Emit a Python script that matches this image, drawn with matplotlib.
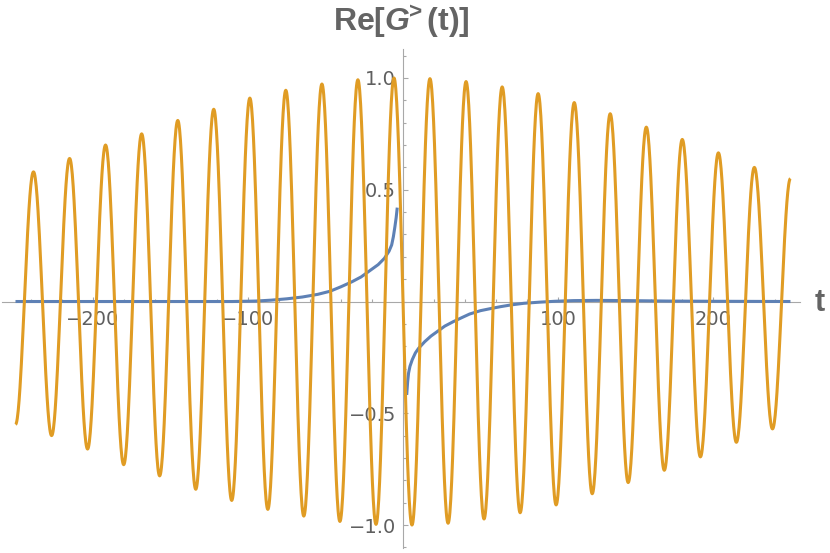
import numpy as np
import matplotlib
matplotlib.use('Agg')
import matplotlib.pyplot as plt
from matplotlib.ticker import MultipleLocator, FixedLocator, FuncFormatter

# fonts: bold title with bold-italic G
plt.rcParams['mathtext.fontset'] = 'custom'
plt.rcParams['mathtext.rm'] = 'Liberation Sans:bold'
plt.rcParams['mathtext.it'] = 'Liberation Sans:bold:italic'

# %%
# orange curve: extrema (time, value)
osc_t = [-250.0, -238.4, -226.7, -215.1, -203.5, -191.9, -180.2, -168.6, -157.0, -145.3,
         -133.7, -122.1, -110.5, -98.8, -87.2, -75.6, -64.0, -52.3, -40.7, -29.1,
         -17.4, -5.8, 5.8, 17.4, 29.1, 40.7, 52.3, 64.0, 75.6, 87.2,
         98.8, 110.5, 122.1, 133.7, 145.3, 157.0, 168.6, 180.2, 191.9, 203.5,
         215.1, 226.7, 238.4, 250.0]
osc_v = [-0.55, 0.58, -0.60, 0.64, -0.66, 0.70, -0.73, 0.75, -0.78, 0.81,
         -0.84, 0.86, -0.89, 0.91, -0.93, 0.945, -0.96, 0.973, -0.984, 0.992,
         -0.997, 1.0, -1.0, 0.997, -0.992, 0.984, -0.973, 0.96, -0.945, 0.93,
         -0.91, 0.89, -0.86, 0.84, -0.81, 0.78, -0.755, 0.725, -0.695, 0.665,
         -0.63, 0.60, -0.57, 0.55]

# blue curve: points, left and right of the jump at t=0
g_t_left = [-250, -200, -150, -110, -95, -85, -75, -65, -55, -47, -40, -33, -27, -21,
            -16, -12, -9, -7.3, -6.2, -5.2, -4.4, -3.7]
g_v_left = [0, 0, 0, 0, 0.002, 0.006, 0.012, 0.02, 0.032, 0.046, 0.066, 0.088, 0.11, 0.14,
            0.165, 0.193, 0.225, 0.253, 0.29, 0.335, 0.375, 0.42]
g_t_right = [2.4, 3.0, 3.6, 4.5, 6, 8, 10, 14, 18, 22, 27, 32.5, 38, 43, 50, 57, 63,
             70, 78, 88, 98, 110, 125, 145, 170, 200, 250]
g_v_right = [-0.418, -0.36, -0.32, -0.29, -0.26, -0.23, -0.21, -0.18, -0.155, -0.135, -0.11,
             -0.09, -0.072, -0.056, -0.041, -0.031, -0.023,
             -0.015, -0.008, -0.003, 0.001, 0.004, 0.005, 0.004, 0.002, 0.001, 0]

x_major = [-200, -100, 100, 200]
y_major = [-1.0, -0.5, 0.5, 1.0]

# smooth half-cosine shape between neighbouring extrema
ot = []
ov = []
for i in range(len(osc_t) - 1):
    s = np.linspace(0, 1, 40, endpoint=False)
    ot.extend(osc_t[i] + s * (osc_t[i + 1] - osc_t[i]))
    ov.extend(osc_v[i] + (osc_v[i + 1] - osc_v[i]) * (1 - np.cos(np.pi * s)) / 2)
ot.append(osc_t[-1])
ov.append(osc_v[-1])

# %%
fig = plt.figure(figsize=(8.3, 5.53), dpi=100)
ax = fig.add_axes([0.00187, 0.00814, 0.9617, 0.9034])

ax.plot(g_t_left, g_v_left, color='#5E81B5', lw=2.2, zorder=3, solid_capstyle='butt')
ax.plot(g_t_right, g_v_right, color='#5E81B5', lw=2.2, zorder=3, solid_capstyle='butt')
ax.plot(ot, ov, color='#E09C24', lw=2.2, zorder=4, solid_capstyle='butt')

ax.set_xlim(-259, 256)
ax.set_ylim(-1.105, 1.13)

axcol = '#a8a8a8'
for side in ['top', 'right']:
    ax.spines[side].set_visible(False)
for side in ['left', 'bottom']:
    ax.spines[side].set_position(('data', 0))
    ax.spines[side].set_color(axcol)
    ax.spines[side].set_linewidth(0.8)
    ax.spines[side].set_zorder(2)

ax.xaxis.set_major_locator(FixedLocator(x_major))
ax.xaxis.set_minor_locator(MultipleLocator(20))
ax.yaxis.set_major_locator(FixedLocator(y_major))
ax.yaxis.set_minor_locator(MultipleLocator(0.1))
ax.xaxis.set_major_formatter(FuncFormatter(lambda v, p: ('%d' % v).replace('-', '\u2212')))
ax.yaxis.set_major_formatter(FuncFormatter(lambda v, p: ('%.1f' % v).replace('-', '\u2212')))

ax.tick_params(which='both', direction='in', color=axcol, width=0.8,
               labelcolor='#5f5f5f', labelsize=14)
ax.tick_params(which='major', length=3.5)
ax.tick_params(which='minor', length=2)
ax.tick_params(axis='x', pad=6)
ax.tick_params(axis='y', pad=5)
ax.patch.set_alpha(0)

fig.text(0.483, 1 - 22.0 / 553, r'Re[$G^{\!\!>}$(t)]', ha='center', va='center',
         fontsize=23, fontweight='bold', family='Liberation Sans', color='#646464')
fig.text(820.0 / 830, 1 - 303.0 / 553, 't', ha='center', va='center',
         fontsize=22, fontweight='bold', family='Liberation Sans', color='#646464')

fig.savefig('out.png', dpi=100)
